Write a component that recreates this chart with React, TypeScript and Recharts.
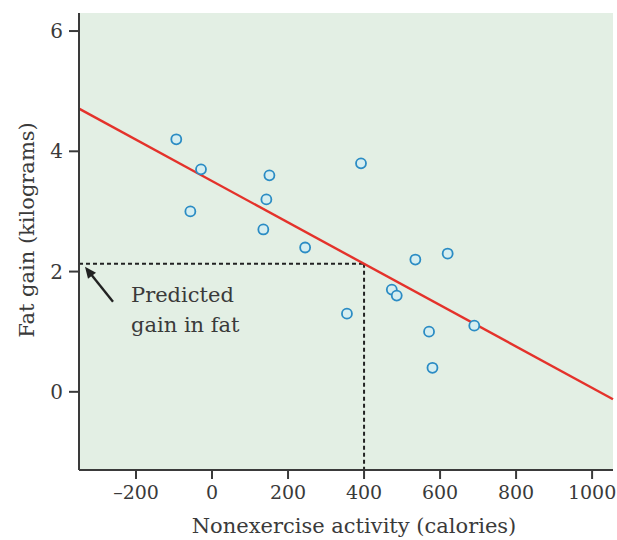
import {
  ScatterChart,
  Scatter,
  XAxis,
  YAxis,
  CartesianGrid,
  ReferenceLine,
  ReferenceDot
} from 'recharts'

// nonexercise activity change (calories) vs fat gain (kg), 16 subjects
const activity = [-94, -57, -29, 135, 143, 151, 245, 355, 392, 473, 486, 535, 571, 580, 620, 690]
const fatGain = [4.2, 3.0, 3.7, 2.7, 3.2, 3.6, 2.4, 1.3, 3.8, 1.7, 1.6, 2.2, 1.0, 0.4, 2.3, 1.1]

const xTicks = [-200, 0, 200, 400, 600, 800, 1000]
const yTicks = [0, 2, 4, 6]

// least-squares line
const intercept = 3.505
const slope = -0.00344
const predictAt = 400

const xDomain = [-350, 1055]
const yDomain = [-1.3, 6.3]

const points = activity.map((x, i) => ({ x, y: fatGain[i] }))
const fit = (x: number) => intercept + slope * x
const predicted = fit(predictAt)

const FONT = '"DejaVu Serif", serif'
const INK = '#3a3a3a'

const fmtX = (v: number) => (v < 0 ? `\u2013${Math.abs(v)}` : `${v}`)

function Circle(props: any) {
  const { cx, cy } = props
  return <circle cx={cx} cy={cy} r={5} fill="#d6eef0" stroke="#2b8cc4" strokeWidth={1.8} />
}

function Annotation(props: any) {
  const { cx, cy } = props
  return (
    <g>
      <line x1={cx + 34} y1={cy + 38} x2={cx + 10} y2={cy + 8} stroke="#222" strokeWidth={2.4} />
      <polygon
        points={`${cx + 6},${cy + 3} ${cx + 17},${cy + 9} ${cx + 9},${cy + 15}`}
        fill="#222"
      />
      <text x={cx + 52} y={cy + 38} fontFamily={FONT} fontSize={21} fill={INK}>
        Predicted
      </text>
      <text x={cx + 52} y={cy + 68} fontFamily={FONT} fontSize={21} fill={INK}>
        gain in fat
      </text>
    </g>
  )
}

function XTitle(props: any) {
  const { viewBox } = props
  return (
    <text
      x={viewBox.x + viewBox.width / 2 + 8}
      y={533}
      textAnchor="middle"
      fontFamily={FONT}
      fontSize={21}
      fill={INK}
    >
      Nonexercise activity (calories)
    </text>
  )
}

function YTitle() {
  return (
    <text
      x={0}
      y={0}
      transform="translate(34, 230) rotate(-90)"
      textAnchor="middle"
      fontFamily={FONT}
      fontSize={21}
      fill={INK}
    >
      Fat gain (kilograms)
    </text>
  )
}

export default function App() {
  return (
    <div style={{ position: 'absolute', left: 0, top: 0, background: '#fff' }}>
      <ScatterChart width={617} height={540} margin={{ top: 13, right: 4, bottom: 0, left: 0 }}>
        <CartesianGrid horizontal={false} vertical={false} fill="#e3efe4" />
        <XAxis
          type="number"
          dataKey="x"
          domain={xDomain}
          ticks={xTicks}
          allowDataOverflow
          height={70}
          tickFormatter={fmtX}
          stroke={INK}
          strokeWidth={2}
          tickSize={9}
          tickMargin={7}
          tick={{ fill: INK, fontSize: 19, fontFamily: FONT }}
          label={XTitle}
        />
        <YAxis
          type="number"
          dataKey="y"
          domain={yDomain}
          ticks={yTicks}
          allowDataOverflow
          width={79}
          stroke={INK}
          strokeWidth={2}
          tickSize={10}
          tickMargin={6}
          tick={{ fill: INK, fontSize: 20, fontFamily: FONT }}
          label={YTitle}
        />
        <ReferenceLine
          segment={[
            { x: xDomain[0], y: predicted },
            { x: predictAt, y: predicted }
          ]}
          stroke="#222"
          strokeWidth={2}
          strokeDasharray="4 3"
        />
        <ReferenceLine
          segment={[
            { x: predictAt, y: predicted },
            { x: predictAt, y: yDomain[0] }
          ]}
          stroke="#222"
          strokeWidth={2}
          strokeDasharray="4 3"
        />
        <ReferenceLine
          segment={[
            { x: xDomain[0], y: fit(xDomain[0]) },
            { x: xDomain[1], y: fit(xDomain[1]) }
          ]}
          stroke="#e4322b"
          strokeWidth={2.4}
        />
        <ReferenceDot x={xDomain[0]} y={predicted} shape={<Annotation />} />
        <Scatter data={points} shape={<Circle />} isAnimationActive={false} />
      </ScatterChart>
    </div>
  )
}
